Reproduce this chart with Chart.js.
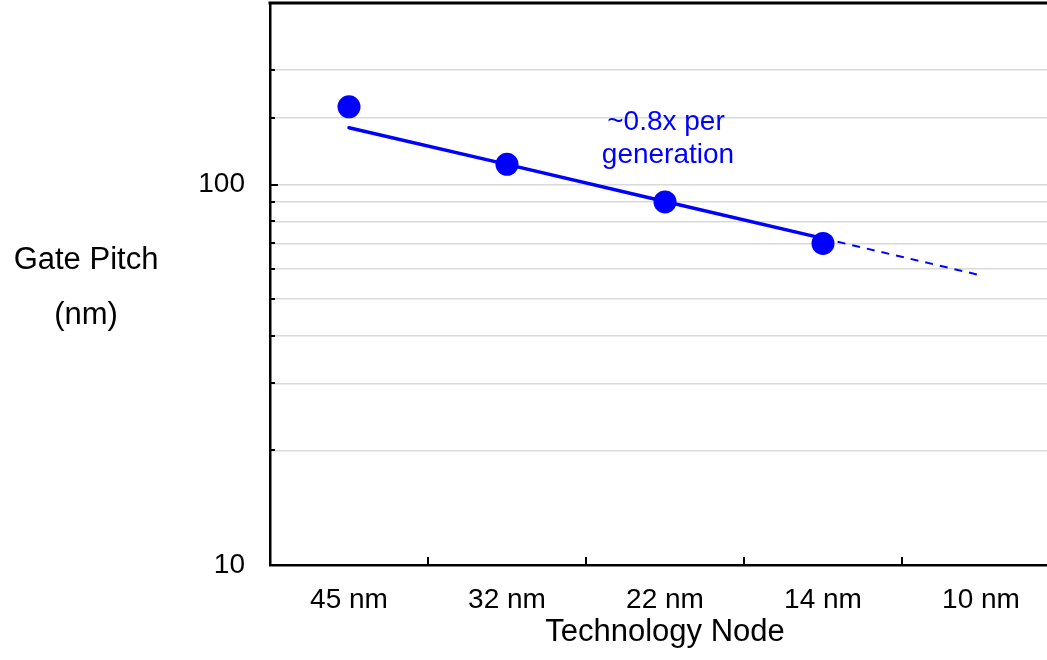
<!DOCTYPE html>
<html>
<head>
<meta charset="utf-8">
<script src="https://cdn.jsdelivr.net/npm/chart.js@4.4.1/dist/chart.umd.min.js"></script>
<style>
html,body{margin:0;padding:0;background:#fff;overflow:hidden;width:1047px;height:660px;}
canvas{display:block;}
</style>
</head>
<body>
<canvas id="c" width="1060" height="660"></canvas>
<script>
// ---- data ----
const categories = ["45 nm", "32 nm", "22 nm", "14 nm", "10 nm"];
const gatePitch = [160, 113, 90, 70, null];           // measured points
const trendLine = [141, 113, 90.2, 72.2, null];        // ~0.8x per generation fit
const trendExtrap = [null, null, null, 72.2, 57.7];    // projected (dashed)
const yLabelTicks = [10, 100];
const yMin = 10, yMax = 300;
const annotationLines = ["~0.8x per", "generation"];
const yTitleLines = ["Gate Pitch", "(nm)"];
const xTitle = "Technology Node";

const FONT = "'Liberation Sans', Arial, sans-serif";
const BLUE = "#0000ff";
const AREA = { left: 270, top: 3, right: 1060, bottom: 565 };

// pin the plot area to the reference frame
const frame = {
  id: "frame",
  afterLayout(chart) {
    const a = chart.chartArea, xs = chart.scales.x, ys = chart.scales.y;
    Object.assign(a, AREA); a.width = AREA.right - AREA.left; a.height = AREA.bottom - AREA.top;
    xs.left = AREA.left; xs.right = AREA.right; xs.width = a.width;
    xs.top = AREA.bottom; xs.bottom = 660; xs.height = 660 - AREA.bottom;
    ys.left = 0; ys.right = AREA.left; ys.width = AREA.left;
    ys.top = AREA.top; ys.bottom = AREA.bottom; ys.height = a.height;
    xs.configure(); ys.configure();
  }
};

const decor = {
  id: "decor",
  afterDatasetsDraw(chart) {
    const ctx = chart.ctx, a = chart.chartArea;
    const xs = chart.scales.x, ys = chart.scales.y;
    ctx.save();
    // top border
    ctx.strokeStyle = "#000"; ctx.lineWidth = 3;
    ctx.beginPath(); ctx.moveTo(a.left - 1.5, a.top); ctx.lineTo(a.right + 2, a.top); ctx.stroke();
    // x-axis inward tick marks at category boundaries
    ctx.lineWidth = 2;
    for (let i = 0; i < categories.length - 1; i++) {
      const bx = Math.round((xs.getPixelForValue(i) + xs.getPixelForValue(i + 1)) / 2);
      ctx.beginPath(); ctx.moveTo(bx, a.bottom); ctx.lineTo(bx, a.bottom - 8); ctx.stroke();
    }
    // y-axis inward tick marks
    ys.ticks.forEach(t => {
      if (t.value <= yMin || t.value >= yMax) return;
      const py = Math.round(ys.getPixelForValue(t.value));
      const len = yLabelTicks.includes(t.value) ? 8 : 5;
      ctx.beginPath(); ctx.moveTo(a.left, py); ctx.lineTo(a.left + len, py); ctx.stroke();
    });
    // annotation text
    ctx.fillStyle = BLUE;
    ctx.font = "28px " + FONT;
    ctx.textAlign = "center"; ctx.textBaseline = "alphabetic";
    const ax = xs.getPixelForValue(2);
    ctx.fillText(annotationLines[0], ax + 1, 130);
    ctx.fillText(annotationLines[1], ax + 3, 163);
    // y title (horizontal)
    ctx.fillStyle = "#000";
    ctx.font = "31px " + FONT;
    ctx.fillText(yTitleLines[0], 86, 269);
    ctx.fillText(yTitleLines[1], 86, 324);
    // x title
    ctx.fillText(xTitle, xs.getPixelForValue(2), 641);
    ctx.restore();
  }
};

new Chart(document.getElementById("c"), {
  type: "line",
  data: {
    labels: categories,
    datasets: [
      { data: gatePitch, showLine: false, pointRadius: 11.5, pointHoverRadius: 11.5,
        pointBackgroundColor: BLUE, pointBorderColor: BLUE, pointBorderWidth: 0, order: 0 },
      { data: trendLine, borderColor: BLUE, borderWidth: 3.5, pointRadius: 0, fill: false,
        tension: 0, order: 1, borderCapStyle: "round" },
      { data: trendExtrap, borderColor: BLUE, borderWidth: 2, borderDash: [8, 7], pointRadius: 0,
        fill: false, tension: 0, order: 2 }
    ]
  },
  options: {
    responsive: false,
    devicePixelRatio: 1,
    animation: false,
    layout: { padding: { top: 3, left: 0, right: 0, bottom: 0 } },
    plugins: { legend: { display: false }, tooltip: { enabled: false } },
    scales: {
      x: {
        type: "category",
        offset: true,
        grid: { display: false, drawTicks: false },
        border: { display: true, color: "#000", width: 2.5 },
        ticks: { color: "#000", font: { family: FONT, size: 28 }, padding: 18, maxRotation: 0, autoSkip: false },
        afterFit(s) { s.height = 95; }
      },
      y: {
        type: "logarithmic",
        min: yMin, max: yMax,
        border: { display: true, color: "#000", width: 2.5 },
        grid: {
          drawTicks: false,
          lineWidth: 1.5,
          color: ctx => (ctx.tick && (ctx.tick.value <= yMin || ctx.tick.value >= yMax)) ? "rgba(0,0,0,0)" : "#d9d9d9"
        },
        ticks: {
          autoSkip: false,
          color: "#000",
          font: { family: FONT, size: 28 },
          padding: 25,
          callback: v => yLabelTicks.includes(v) ? String(v) : ""
        },
        afterFit(s) { s.width = 270; }
      }
    }
  },
  plugins: [frame, decor]
});
</script>
</body>
</html>
